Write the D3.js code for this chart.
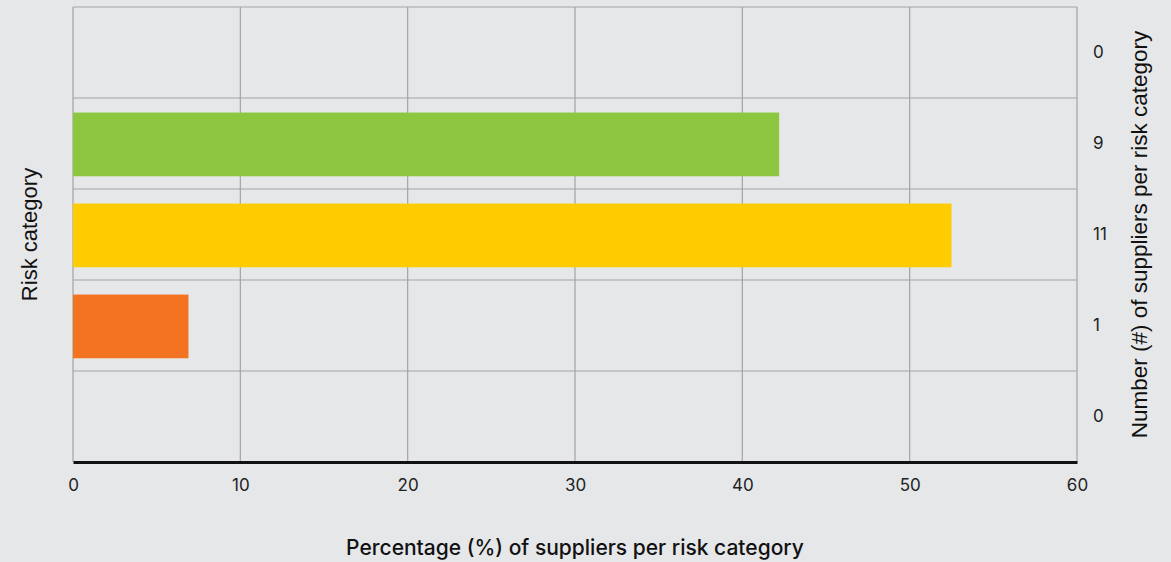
<!DOCTYPE html>
<html>
<head>
<meta charset="utf-8">
<script src="https://cdn.jsdelivr.net/npm/d3@7"></script>
<style>
  body { margin: 0; background: #e6e7e9; }
  svg { display: block; }
</style>
</head>
<body>
<div id="chart"></div>
<script>
// Risk categories top to bottom (names are not printed on the chart)
const categories = ["Very low", "Low", "Medium", "High", "Very high"];
const percentages = [0, 42.2, 52.5, 6.9, 0];
const counts = [0, 9, 11, 1, 0];
const barColors = ["#8dc63f", "#8dc63f", "#ffcc00", "#f37321", "#d71920"];
const xTicks = [0, 10, 20, 30, 40, 50, 60];

const width = 1171, height = 562;
const margin = { top: 7, right: 94, bottom: 100, left: 73 };
const innerW = width - margin.left - margin.right;
const innerH = height - margin.top - margin.bottom;

const svg = d3.select("#chart")
  .append("svg")
  .attr("width", width)
  .attr("height", height);

svg.append("rect")
  .attr("width", width)
  .attr("height", height)
  .attr("fill", "#e6e7e9");

const g = svg.append("g")
  .attr("transform", `translate(${margin.left},${margin.top})`);

const xScale = d3.scaleLinear()
  .domain([0, 60])
  .range([0, innerW]);

const rowScale = d3.scaleBand()
  .domain(categories)
  .range([0, innerH]);

// vertical grid lines
g.selectAll("line.vgrid")
  .data(xTicks)
  .enter()
  .append("line")
  .attr("class", "vgrid")
  .attr("x1", d => xScale(d))
  .attr("x2", d => xScale(d))
  .attr("y1", 0)
  .attr("y2", innerH)
  .attr("stroke", "#a3a3a5")
  .attr("stroke-width", 1.2);

// horizontal row separators
g.selectAll("line.hgrid")
  .data(categories)
  .enter()
  .append("line")
  .attr("class", "hgrid")
  .attr("x1", 0)
  .attr("x2", innerW)
  .attr("y1", d => rowScale(d))
  .attr("y2", d => rowScale(d))
  .attr("stroke", "#a3a3a5")
  .attr("stroke-width", 1.2);

// bars
g.selectAll("rect.bar")
  .data(categories)
  .enter()
  .append("rect")
  .attr("class", "bar")
  .attr("x", 0)
  .attr("y", d => rowScale(d) + rowScale.bandwidth() * 0.16)
  .attr("width", (d, i) => xScale(percentages[i]))
  .attr("height", rowScale.bandwidth() * 0.7)
  .attr("fill", (d, i) => barColors[i]);

// x axis
const xAxis = d3.axisBottom(xScale)
  .tickValues(xTicks)
  .tickSize(0)
  .tickPadding(17);

const xg = g.append("g")
  .attr("transform", `translate(0, ${innerH})`)
  .call(xAxis);
xg.select(".domain")
  .attr("stroke", "#111")
  .attr("stroke-width", 3);
xg.selectAll("text")
  .attr("font-family", "Inter, 'Open Sans', sans-serif")
  .attr("font-size", 17)
  .attr("fill", "#222");

// right axis with counts
const yAxisRight = d3.axisRight(rowScale)
  .tickSize(0)
  .tickPadding(16)
  .tickFormat((d, i) => counts[i]);

const yg = g.append("g")
  .attr("transform", `translate(${innerW}, 0)`)
  .call(yAxisRight);
yg.select(".domain").remove();
yg.selectAll("text")
  .attr("font-family", "Inter, 'Open Sans', sans-serif")
  .attr("font-size", 17)
  .attr("fill", "#222");

// left axis title
svg.append("text")
  .attr("transform", `translate(37, ${margin.top + innerH / 2}) rotate(-90)`)
  .attr("text-anchor", "middle")
  .attr("font-family", "'Liberation Sans', Arial, sans-serif")
  .attr("font-size", 22)
  .attr("fill", "#111")
  .text("Risk category");

// right axis title
svg.append("text")
  .attr("transform", `translate(1147, ${margin.top + innerH / 2}) rotate(-90)`)
  .attr("text-anchor", "middle")
  .attr("font-family", "'Liberation Sans', Arial, sans-serif")
  .attr("font-size", 22.5)
  .attr("fill", "#111")
  .text("Number (#) of suppliers per risk category");

// bottom axis title
svg.append("text")
  .attr("x", margin.left + innerW / 2)
  .attr("y", 555)
  .attr("text-anchor", "middle")
  .attr("font-family", "Inter, 'Open Sans', sans-serif")
  .attr("font-size", 21)
  .attr("font-weight", 500)
  .attr("fill", "#111")
  .text("Percentage (%) of suppliers per risk category");
</script>
</body>
</html>
